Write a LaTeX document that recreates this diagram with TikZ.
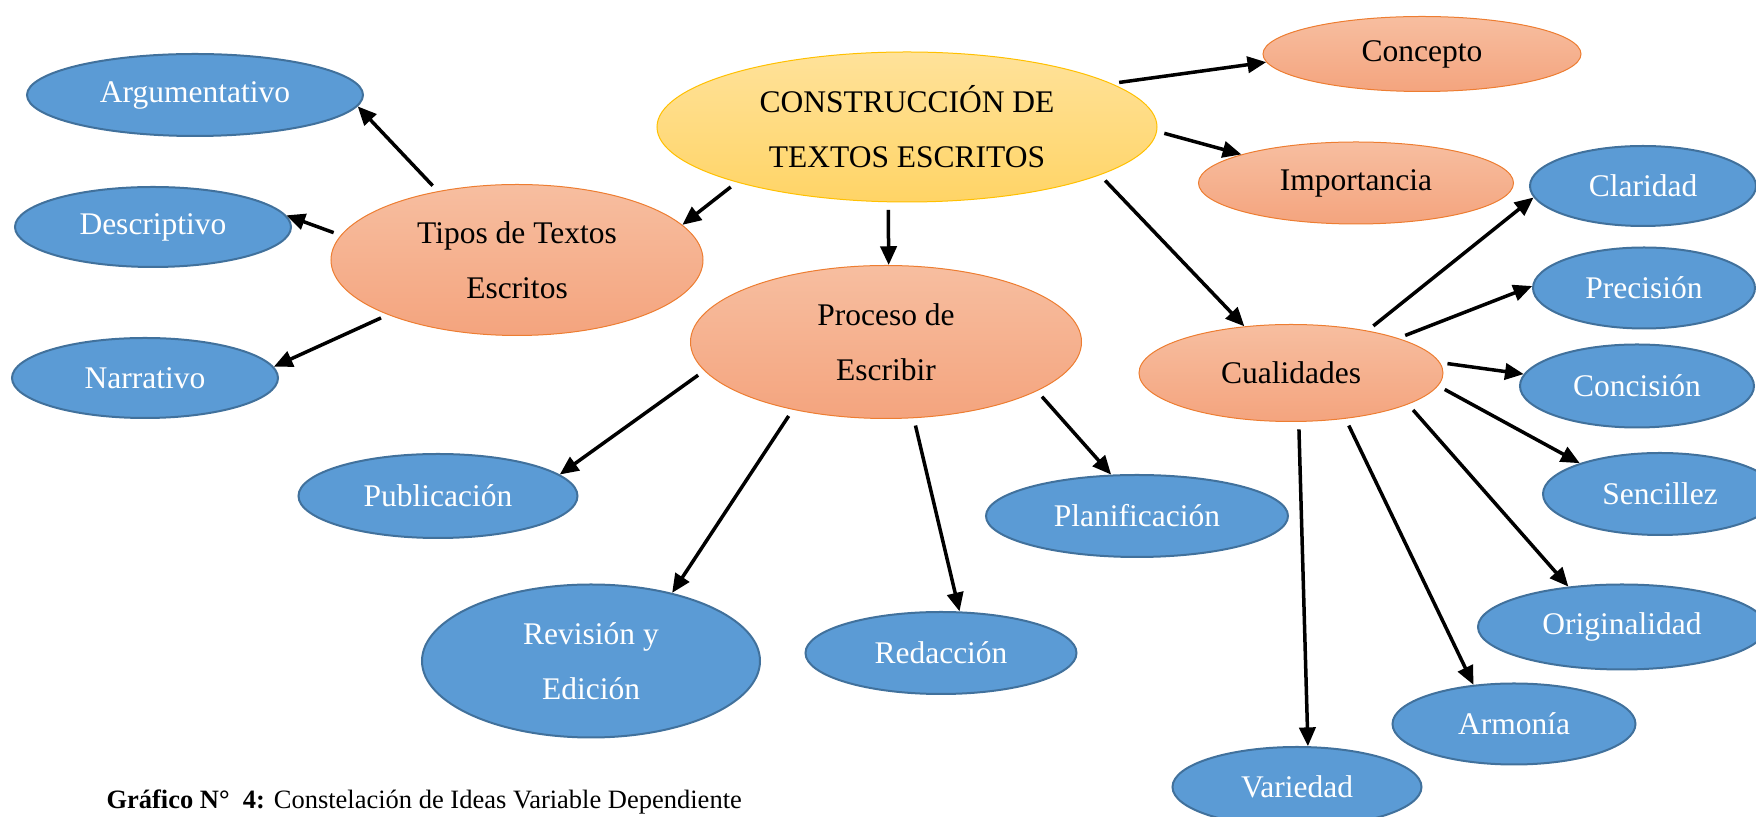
\documentclass[tikz,border=0pt]{standalone}
\usepackage{fontspec}
\setmainfont{Liberation Serif}
\usetikzlibrary{shapes.geometric,arrows.meta}
\definecolor{azul}{RGB}{91,155,213}
\definecolor{bordeazul}{RGB}{65,113,156}
\definecolor{naranjaA}{RGB}{247,190,160}
\definecolor{naranjaB}{RGB}{244,164,126}
\definecolor{bordenaranja}{RGB}{237,125,49}
\definecolor{amarilloA}{RGB}{255,226,154}
\definecolor{amarilloB}{RGB}{255,212,102}
\definecolor{bordeamarillo}{RGB}{255,192,0}
\tikzset{
  hoja/.style={ellipse, draw=bordeazul, line width=0.8pt, fill=azul, text=white, inner sep=0pt, align=center, font=\fontsize{12.6}{22}\selectfont},
  rama/.style={ellipse, draw=bordenaranja, line width=0.4pt, top color=naranjaA, bottom color=naranjaB, inner sep=0pt, align=center, font=\fontsize{12.6}{22}\selectfont},
  raiz/.style={ellipse, draw=bordeamarillo, line width=0.4pt, top color=amarilloA, bottom color=amarilloB, inner sep=0pt, align=center, font=\fontsize{12.6}{22}\selectfont},
  flecha/.style={-{Triangle[length=7.5pt,width=6.5pt]}, line width=1.4pt, shorten <=3pt}
}
\begin{document}
\begin{tikzpicture}[x=0.4pt, y=-0.4pt]
\useasboundingbox (0,0) rectangle (1756,817);
% nodo central
\node [raiz, minimum width=200pt, minimum height=60pt] (cen) at (907,127) {CONSTRUCCIÓN DE\\TEXTOS ESCRITOS};
% ramas
\node [rama, minimum width=127.2pt, minimum height=30pt] (conc) at (1422,54) {Concepto};
\node [rama, minimum width=126pt, minimum height=32.8pt] (imp) at (1356,183) {Importancia};
\node [rama, minimum width=148.8pt, minimum height=60.4pt] (tipos) at (517,260) {Tipos de Textos\\Escritos};
\node [rama, minimum width=156.4pt, minimum height=61.2pt] (proc) at (886,342) {Proceso de\\Escribir};
\node [rama, minimum width=121.6pt, minimum height=38.8pt] (cual) at (1291,373) {Cualidades};
% hojas de tipos
\node [hoja, minimum width=134.4pt, minimum height=32.8pt] (arg) at (195,95) {Argumentativo};
\node [hoja, minimum width=110.4pt, minimum height=32pt] (desc) at (153,227) {Descriptivo};
\node [hoja, minimum width=106.4pt, minimum height=32pt] (narr) at (145,378) {Narrativo};
% hojas de proceso
\node [hoja, minimum width=111.6pt, minimum height=33.6pt] (pub) at (438,496) {Publicación};
\node [hoja, minimum width=135.2pt, minimum height=61.2pt] (rev) at (591,661) {Revisión y\\Edición};
\node [hoja, minimum width=108.4pt, minimum height=32.8pt] (red) at (941,653) {Redacción};
\node [hoja, minimum width=120.8pt, minimum height=32.8pt] (plan) at (1137,516) {Planificación};
% hojas de cualidades
\node [hoja, minimum width=90.4pt, minimum height=32pt] (clar) at (1643,186) {Claridad};
\node [hoja, minimum width=88.8pt, minimum height=32.4pt] (prec) at (1644,288) {Precisión};
\node [hoja, minimum width=93.6pt, minimum height=33.2pt] (conci) at (1637,386) {Concisión};
\node [hoja, minimum width=93.6pt, minimum height=32.8pt] (senc) at (1660,494) {Sencillez};
\node [hoja, minimum width=115.2pt, minimum height=34pt] (orig) at (1622,627) {Originalidad};
\node [hoja, minimum width=97.2pt, minimum height=32.4pt] (arm) at (1514,724) {Armonía};
\node [hoja, minimum width=99.6pt, minimum height=32pt] (var) at (1297,787) {Variedad};
% flechas
\draw [flecha] (cen.12) -- (conc.183);
\draw [flecha] (cen.-1) -- (imp.166);
\draw [flecha] (cen.198) -- (tipos.12);
\draw [flecha] (cen.256) -- (proc.88);
\draw [flecha] (cen.346) -- (cual.135);
\draw [flecha] (tipos.139) -- (arg.356);
\draw [flecha] (tipos.172) -- (desc.5);
\draw [flecha] (tipos.203) -- (narr.5);
\draw [flecha] (proc.189) -- (pub.10);
\draw [flecha] (proc.216) -- (rev.40);
\draw [flecha] (proc.290) -- (red.66);
\draw [flecha] (proc.342) -- (plan.122);
\draw [flecha] (cual.29) -- (clar.186);
\draw [flecha] (cual.18) -- (prec.179);
\draw [flecha] (cual.4) -- (conci.174);
\draw [flecha] (cual.355) -- (senc.159);
\draw [flecha] (cual.345) -- (orig.143);
\draw [flecha] (cual.320) -- (arm.136);
\draw [flecha] (cual.279) -- (var.75);
% titulo
\node [anchor=base west, inner sep=0pt, font=\fontsize{10.6}{12}\selectfont] (tit) at (106,809) {\textbf{Gráfico N°\ \ 4:} Constelación de Ideas Variable Dependiente};
\end{tikzpicture}
\end{document}
